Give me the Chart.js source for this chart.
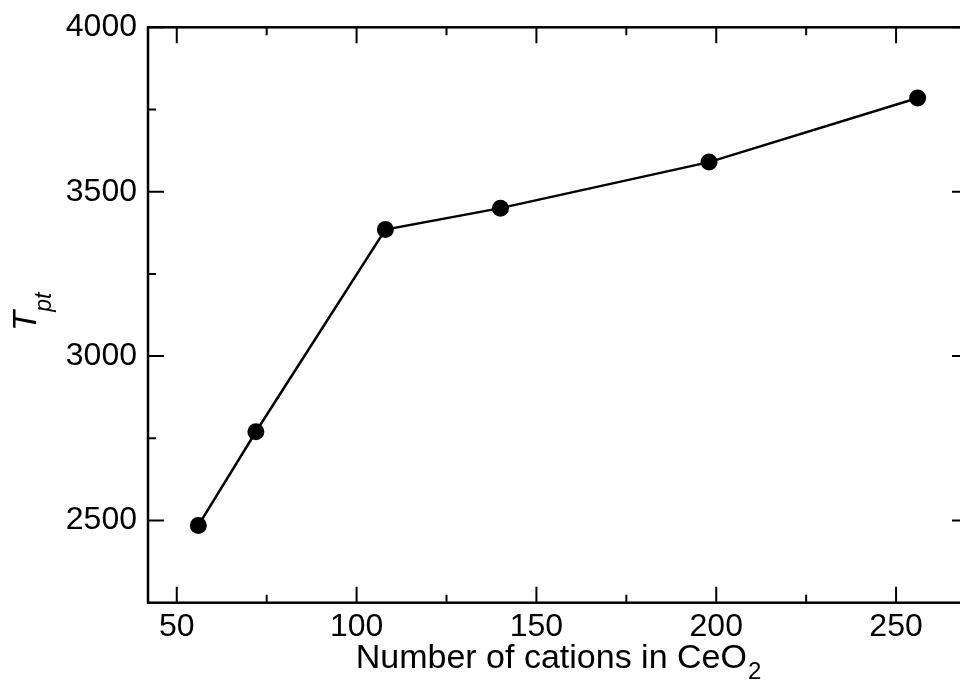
<!DOCTYPE html>
<html>
<head>
<meta charset="utf-8">
<title>Tpt vs cations</title>
<script src="https://cdn.jsdelivr.net/npm/chart.js@4.4.1/dist/chart.umd.min.js"></script>
<style>
  html, body { margin: 0; padding: 0; background: #fff; overflow: hidden; }
  #wrap { width: 980px; height: 681px; }
</style>
</head>
<body>
<div id="wrap"><canvas id="tptChart" width="980" height="681"></canvas></div>
<script>
// Transition temperature against number of cations in the CeO2 cell
const cations = [56, 72, 108, 140, 198, 256];
const tpt = [2485, 2770, 3385, 3450, 3590, 3785];

// Tick positions (labels on majors, short marks on minors)
const xMajorTicks = [50, 100, 150, 200, 250];
const xMinorTicks = [75, 125, 175, 225];
const yMajorTicks = [2500, 3000, 3500, 4000];
const yMinorTicks = [2750, 3250, 3750];

const FONT = '"Liberation Sans", Arial, Helvetica, sans-serif';

// Boxed frame with inward ticks on all four sides
const framePlugin = {
    id: 'frame',
    afterDraw(chart) {
        const { ctx, chartArea: a, scales: { x, y } } = chart;
        ctx.save();
        ctx.strokeStyle = '#000';
        ctx.lineWidth = 2.5;
        ctx.strokeRect(a.left, a.top, a.right - a.left, a.bottom - a.top);

        ctx.lineWidth = 2;
        ctx.beginPath();
        const xTick = (v, len) => {
            const px = x.getPixelForValue(v);
            ctx.moveTo(px, a.bottom); ctx.lineTo(px, a.bottom - len);
            ctx.moveTo(px, a.top); ctx.lineTo(px, a.top + len);
        };
        const yTick = (v, len) => {
            const py = y.getPixelForValue(v);
            ctx.moveTo(a.left, py); ctx.lineTo(a.left + len, py);
            ctx.moveTo(a.right, py); ctx.lineTo(a.right - len, py);
        };
        xMajorTicks.forEach(v => xTick(v, 16));
        xMinorTicks.forEach(v => xTick(v, 8));
        yMajorTicks.forEach(v => yTick(v, 16));
        yMinorTicks.forEach(v => yTick(v, 8));
        ctx.stroke();
        ctx.restore();
    }
};

// Axis titles with subscripts
const titlePlugin = {
    id: 'axisTitles',
    afterDraw(chart) {
        const { ctx, chartArea: a } = chart;
        ctx.save();
        ctx.fillStyle = '#000';
        ctx.textBaseline = 'alphabetic';
        ctx.textAlign = 'left';

        // x title: Number of cations in CeO2
        const main = 'Number of cations in CeO';
        ctx.font = '34px ' + FONT;
        const wMain = ctx.measureText(main).width;
        ctx.font = '24px ' + FONT;
        const wSub = ctx.measureText('2').width;
        let x0 = (a.left + a.right) / 2 - (wMain + wSub) / 2;
        ctx.font = '34px ' + FONT;
        ctx.fillText(main, x0, 668);
        ctx.font = '24px ' + FONT;
        ctx.fillText('2', x0 + wMain + 1, 679);

        // y title: T_pt, rotated
        ctx.translate(36, 331);
        ctx.rotate(-Math.PI / 2);
        ctx.font = 'italic 33px ' + FONT;
        ctx.fillText('T', 0, 0);
        const wT = ctx.measureText('T').width;
        ctx.font = 'italic 23px ' + FONT;
        ctx.fillText('pt', wT - 1, 15);
        ctx.restore();
    }
};

const ctx = document.getElementById('tptChart').getContext('2d');
const chart = new Chart(ctx, {
    type: 'scatter',
    data: {
        datasets: [{
            data: cations.map((n, i) => ({ x: n, y: tpt[i] })),
            showLine: true,
            borderColor: '#000',
            borderWidth: 2.5,
            backgroundColor: '#000',
            pointRadius: 8.5,
            pointHoverRadius: 8.5,
            pointBorderWidth: 0
        }]
    },
    options: {
        responsive: false,
        animation: false,
        events: [],
        layout: {
            padding: { top: 27.3, right: 12, bottom: 0, left: 0 }
        },
        scales: {
            x: {
                type: 'linear',
                min: 42,
                max: 270,
                grid: { display: false, drawTicks: false },
                border: { display: false },
                afterBuildTicks: scale => {
                    scale.ticks = xMajorTicks.map(v => ({ value: v }));
                },
                afterFit: scale => {
                    scale.height = 78.3;
                    scale.paddingLeft = 0;
                    scale.paddingRight = 0;
                },
                ticks: {
                    color: '#000',
                    padding: 5,
                    maxRotation: 0,
                    font: { family: FONT, size: 32 },
                    callback: value => String(value)
                }
            },
            y: {
                type: 'linear',
                min: 2250,
                max: 4000,
                grid: { display: false, drawTicks: false },
                border: { display: false },
                afterBuildTicks: scale => {
                    scale.ticks = yMajorTicks.map(v => ({ value: v }));
                },
                afterFit: scale => {
                    scale.width = 148;
                    scale.paddingTop = 0;
                    scale.paddingBottom = 0;
                },
                ticks: {
                    color: '#000',
                    padding: 11,
                    font: { family: FONT, size: 32 },
                    callback: value => String(value)
                }
            }
        },
        plugins: {
            legend: { display: false },
            tooltip: { enabled: false }
        }
    },
    plugins: [framePlugin, titlePlugin]
});
</script>
</body>
</html>
